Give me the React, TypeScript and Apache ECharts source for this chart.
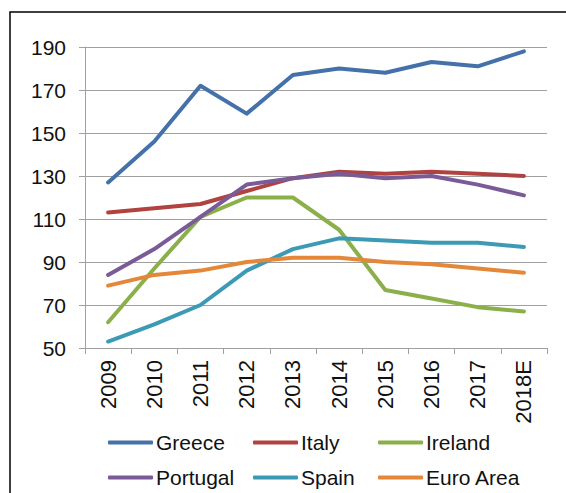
import React, { useEffect, useRef } from "react";
import * as echarts from "echarts";

const years = ["2009", "2010", "2011", "2012", "2013", "2014", "2015", "2016", "2017", "2018E"];
const greece = [127, 146, 172, 159, 177, 180, 178, 183, 181, 188];
const italy = [113, 115, 117, 123, 129, 132, 131, 132, 131, 130];
const ireland = [62, 87, 111, 120, 120, 105, 77, 73, 69, 67];
const portugal = [84, 96, 111, 126, 129, 131, 129, 130, 126, 121];
const spain = [53, 61, 70, 86, 96, 101, 100, 99, 99, 97];
const euroArea = [79, 84, 86, 90, 92, 92, 90, 89, 87, 85];

const seriesNames = ["Greece", "Italy", "Ireland", "Portugal", "Spain", "Euro Area"];
const seriesData = [greece, italy, ireland, portugal, spain, euroArea];
const colors = ["#4571AA", "#B0423F", "#8BB04A", "#7A5B98", "#3C9AB4", "#E48739"];

const FONT = "'Liberation Sans', Arial, sans-serif";

export default function App() {
  const ref = useRef<HTMLDivElement>(null);
  useEffect(() => {
    if (!ref.current) return;
    const chart = echarts.init(ref.current, undefined, { renderer: "svg" });
    const legendLefts = [108, 253, 378, 108, 253, 378];
    const legendTops = [432, 432, 432, 467, 467, 467];
    chart.setOption({
      animation: false,
      backgroundColor: "#ffffff",
      graphic: [
        {
          type: "rect",
          shape: { x: 10, y: 12, width: 620, height: 600 },
          style: { fill: "none", stroke: "#000000", lineWidth: 1.5 },
          silent: true,
        },
      ],
      grid: { left: 85, right: 19, top: 47, bottom: 145 },
      legend: seriesNames.map((n, i) => ({
        data: [n],
        left: legendLefts[i],
        top: legendTops[i],
        padding: 0,
        icon: "roundRect",
        itemWidth: 45,
        itemHeight: 4,
        itemGap: 0,
        textStyle: { fontFamily: FONT, fontSize: 21, color: "#111111", padding: [0, 0, 0, -2] },
      })),
      xAxis: {
        type: "category",
        data: years,
        boundaryGap: true,
        axisLine: { lineStyle: { color: "#A0A0A0", width: 1 } },
        axisTick: { show: true, length: 6, lineStyle: { color: "#A0A0A0" } },
        axisLabel: {
          rotate: 90,
          margin: 12,
          fontFamily: FONT,
          fontSize: 22,
          color: "#111111",
        },
      },
      yAxis: {
        type: "value",
        min: 50,
        max: 190,
        interval: 20,
        axisLine: { show: true, lineStyle: { color: "#A0A0A0", width: 1 } },
        axisTick: { show: true, length: 6, lineStyle: { color: "#A0A0A0" } },
        axisLabel: { margin: 19, fontFamily: FONT, fontSize: 21, color: "#111111" },
        splitLine: { show: true, lineStyle: { color: "#A0A0A0", width: 1 } },
      },
      series: seriesNames.map((n, i) => ({
        name: n,
        type: "line",
        data: seriesData[i],
        showSymbol: false,
        symbol: "none",
        color: colors[i],
        lineStyle: { width: 4, color: colors[i], cap: "round", join: "round" },
      })),
    });
    return () => chart.dispose();
  }, []);
  return (
    <div
      ref={ref}
      style={{ position: "absolute", left: 0, top: 0, width: 566, height: 493 }}
    />
  );
}
